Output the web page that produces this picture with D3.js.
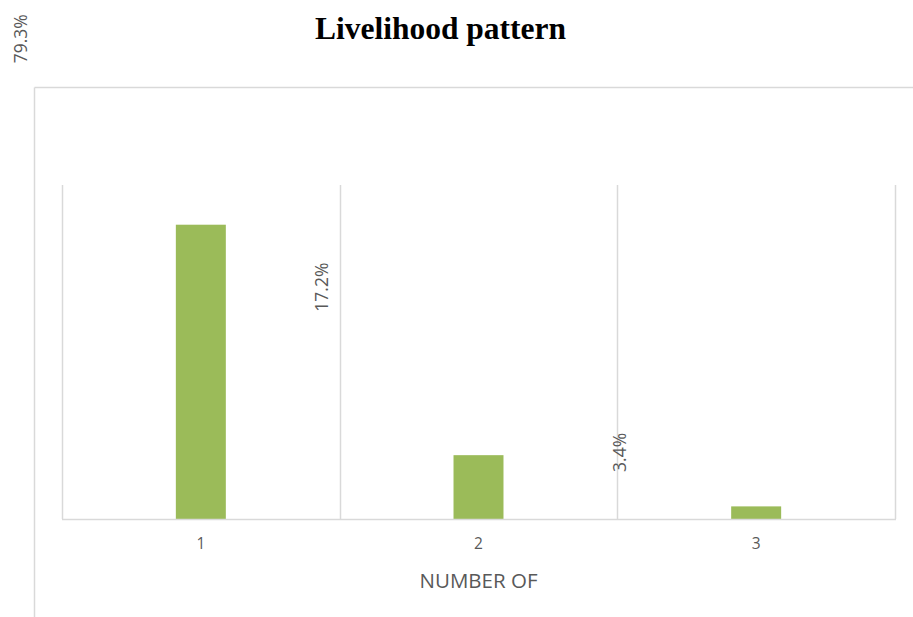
<!DOCTYPE html>
<html>
<head>
<meta charset="utf-8">
<script src="https://cdn.jsdelivr.net/npm/d3@7"></script>
<style>
  html, body { margin: 0; padding: 0; background: #fff; }
  svg { display: block; }
</style>
</head>
<body>
<svg id="chart" width="913" height="617"></svg>
<script>
// Share of households by number of livelihood sources
const categories = ["1", "2", "3"];
const values = [79.3, 17.2, 3.4];
const valueLabels = ["79.3%", "17.2%", "3.4%"];
const yTicks = [0, 90];

const svg = d3.select("#chart");
const W = 913, H = 617;
const plot = { left: 62, right: 895, top: 185, bottom: 519 };
const grey = "#595959", gridColor = "#d9d9d9", barColor = "#9bbb59";
const labelFont = "'Open Sans', 'Noto Sans', sans-serif";

// Chart frame (only top and left edges fall inside the page)
svg.append("line").attr("x1", 34.5).attr("x2", W).attr("y1", 87.5).attr("y2", 87.5)
  .attr("stroke", gridColor).attr("stroke-width", 1.5);
svg.append("line").attr("x1", 34.5).attr("x2", 34.5).attr("y1", 87.5).attr("y2", H)
  .attr("stroke", gridColor).attr("stroke-width", 1.5);

// Title
svg.append("text")
  .attr("x", 440.5).attr("y", 39)
  .attr("text-anchor", "middle")
  .attr("font-family", "'Liberation Serif', 'Times New Roman', serif")
  .attr("font-weight", "bold")
  .attr("font-size", 31.5)
  .attr("fill", "#000")
  .text("Livelihood pattern");

const x = d3.scaleBand().domain(categories).range([plot.left, plot.right]).padding(0);
const y = d3.scaleLinear().domain([yTicks[0], yTicks[yTicks.length - 1]]).range([plot.bottom, plot.top]);

// Vertical category separators
const seps = d3.range(categories.length + 1).map(i => plot.left + i * x.step());
svg.append("g").selectAll("line").data(seps).join("line")
  .attr("x1", d => Math.round(d) + 0.5).attr("x2", d => Math.round(d) + 0.5)
  .attr("y1", y(yTicks[yTicks.length - 1])).attr("y2", plot.bottom)
  .attr("stroke", gridColor).attr("stroke-width", 1.5);

// Bars
const barW = x.bandwidth() * 0.18;
svg.append("g").selectAll("rect").data(values).join("rect")
  .attr("x", (d, i) => x(categories[i]) + x.bandwidth() / 2 - barW / 2)
  .attr("width", barW)
  .attr("y", d => y(d))
  .attr("height", d => y(0) - y(d))
  .attr("fill", barColor);

// Category axis
const xAxis = svg.append("g").attr("transform", `translate(0,${plot.bottom})`)
  .call(d3.axisBottom(x).tickSize(0).tickPadding(19));
xAxis.select(".domain").attr("stroke", gridColor).attr("stroke-width", 1.5)
  .attr("d", `M${plot.left},0.5H${plot.right + 1}`);
xAxis.selectAll("text")
  .attr("font-family", labelFont).attr("font-size", 15.5).attr("fill", grey);

// Axis title
svg.append("text")
  .attr("x", (plot.left + plot.right) / 2).attr("y", 587.5)
  .attr("text-anchor", "middle")
  .attr("font-family", labelFont).attr("font-size", 20.5).attr("fill", grey)
  .text("NUMBER OF");

// Rotated value labels, offset from each bar
const labelShift = [[-181, -186], [-158, -168], [-137, -54]];
svg.append("g").selectAll("text").data(values).join("text")
  .attr("transform", (d, i) => {
    const cx = x(categories[i]) + x.bandwidth() / 2 + labelShift[i][0];
    const cy = y(d) + labelShift[i][1];
    return `translate(${cx},${cy}) rotate(-90)`;
  })
  .attr("text-anchor", "middle")
  .attr("dominant-baseline", "central")
  .attr("font-family", labelFont).attr("font-size", 17.5).attr("fill", grey)
  .text((d, i) => valueLabels[i]);
</script>
</body>
</html>
